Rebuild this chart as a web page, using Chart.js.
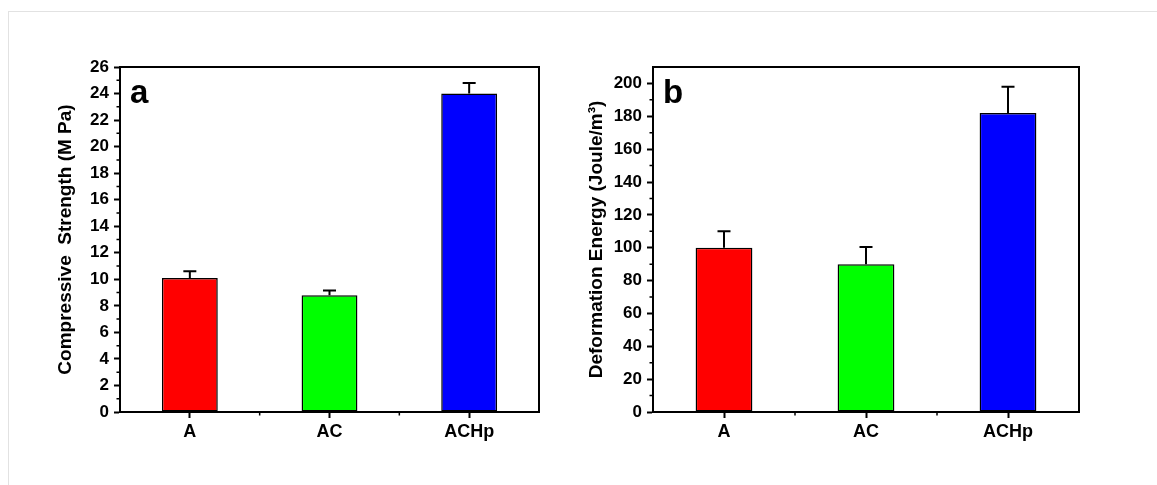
<!DOCTYPE html>
<html>
<head>
<meta charset="utf-8">
<script src="https://cdn.jsdelivr.net/npm/chart.js@4/dist/chart.umd.min.js"></script>
<style>
  html, body { margin: 0; padding: 0; background: #fff; }
  body { width: 1157px; height: 485px; position: relative; overflow: hidden; }
  .sheet { position: absolute; left: 8px; top: 11px; right: 0; bottom: 0;
           border-top: 1px solid #e2e2e2; border-left: 1px solid #e2e2e2; }
  .panel { position: absolute; top: 0; height: 485px; }
  #boxA { left: 0; width: 578px; }
  #boxB { left: 578px; width: 579px; }
</style>
</head>
<body>
<div class="sheet"></div>
<div class="panel" id="boxA"><canvas id="chartA"></canvas></div>
<div class="panel" id="boxB"><canvas id="chartB"></canvas></div>
<script>
// data
const samples = ['A', 'AC', 'ACHp'];
const strength = [10.1, 8.8, 24.0];
const strengthErr = [0.5, 0.35, 0.8];
const energy = [100, 90, 182];
const energyErr = [10, 10.5, 16];
const strengthTicks = [0, 2, 4, 6, 8, 10, 12, 14, 16, 18, 20, 22, 24, 26];
const energyTicks = [0, 20, 40, 60, 80, 100, 120, 140, 160, 180, 200];
const barColors = ['#ff0000', '#00ff00', '#0000ff'];

Chart.defaults.font.family = '"Liberation Sans", Arial, sans-serif';
Chart.defaults.color = '#000';

// frame, minor ticks, error bars and panel letter
const extras = {
    id: 'extras',
    afterDatasetsDraw(chart, args, opts) {
        const ctx = chart.ctx;
        const a = chart.chartArea;
        const x = chart.scales.x;
        const y = chart.scales.y;
        const meta = chart.getDatasetMeta(0);
        const vals = chart.data.datasets[0].data;
        ctx.save();
        ctx.strokeStyle = '#000';
        ctx.lineWidth = 2;

        // error bars (upper half only)
        opts.errors.forEach(function(e, i) {
            const bx = meta.data[i].x;
            const y0 = y.getPixelForValue(vals[i]);
            const y1 = y.getPixelForValue(vals[i] + e);
            ctx.beginPath();
            ctx.moveTo(bx, y0);
            ctx.lineTo(bx, y1);
            ctx.moveTo(bx - 6.5, y1);
            ctx.lineTo(bx + 6.5, y1);
            ctx.stroke();
        });

        // box round the plot
        ctx.strokeRect(a.left, a.top, a.right - a.left, a.bottom - a.top);

        // minor ticks
        ctx.lineWidth = 1.5;
        ctx.beginPath();
        for (let i = 0; i < opts.major.length - 1; i++) {
            const py = y.getPixelForValue((opts.major[i] + opts.major[i + 1]) / 2);
            ctx.moveTo(a.left - 3.5, py);
            ctx.lineTo(a.left, py);
        }
        for (let i = 1; i < samples.length; i++) {
            const px = x.getPixelForValue(i - 0.5);
            ctx.moveTo(px, a.bottom);
            ctx.lineTo(px, a.bottom + 3.5);
        }
        ctx.stroke();

        // panel letter
        ctx.fillStyle = '#000';
        ctx.font = 'bold 33px "Liberation Sans", Arial, sans-serif';
        ctx.textBaseline = 'alphabetic';
        ctx.fillText(opts.letter, a.left + 10, a.top + 36);
        ctx.restore();
    }
};

function makeChart(id, values, errors, yMax, major, title, letter, axisWidth, titlePad, rightPad) {
    return new Chart(document.getElementById(id), {
        type: 'bar',
        data: {
            labels: samples,
            datasets: [{
                data: values,
                backgroundColor: barColors,
                borderColor: '#000',
                borderWidth: 1.5,
                borderSkipped: false,
                barPercentage: 0.4,
                categoryPercentage: 1
            }]
        },
        options: {
            responsive: true,
            maintainAspectRatio: false,
            animation: false,
            layout: { padding: { top: 67, right: rightPad, left: 0, bottom: 0 } },
            plugins: {
                legend: { display: false },
                tooltip: { enabled: false },
                extras: { errors: errors, major: major, letter: letter }
            },
            scales: {
                x: {
                    afterFit: function(s) { s.height = 73; },
                    border: { color: '#000', width: 2 },
                    grid: { offset: false, drawOnChartArea: false, tickLength: 6, tickWidth: 2, color: '#000' },
                    ticks: { font: { size: 18, weight: 'bold' }, padding: 3, color: '#000' }
                },
                y: {
                    min: 0,
                    max: yMax,
                    afterFit: function(s) { s.width = axisWidth; },
                    afterBuildTicks: function(s) { s.ticks = major.map(function(v) { return { value: v }; }); },
                    border: { color: '#000', width: 2 },
                    grid: { drawOnChartArea: false, tickLength: 6, tickWidth: 2, color: '#000' },
                    ticks: { font: { size: 17, weight: 'bold' }, padding: 5, autoSkip: false, color: '#000' },
                    title: {
                        display: true,
                        text: title,
                        color: '#000',
                        font: { size: 19, weight: 'bold' },
                        padding: { top: titlePad, bottom: 0 }
                    }
                }
            }
        },
        plugins: [extras]
    });
}

makeChart('chartA', strength, strengthErr, 26, strengthTicks,
    'Compressive  Strength (M Pa)', 'a', 120, 54, 39);
makeChart('chartB', energy, energyErr, 210, energyTicks,
    'Deformation Energy (Joule/m\u00b3)', 'b', 75, 7, 78);
</script>
</body>
</html>
